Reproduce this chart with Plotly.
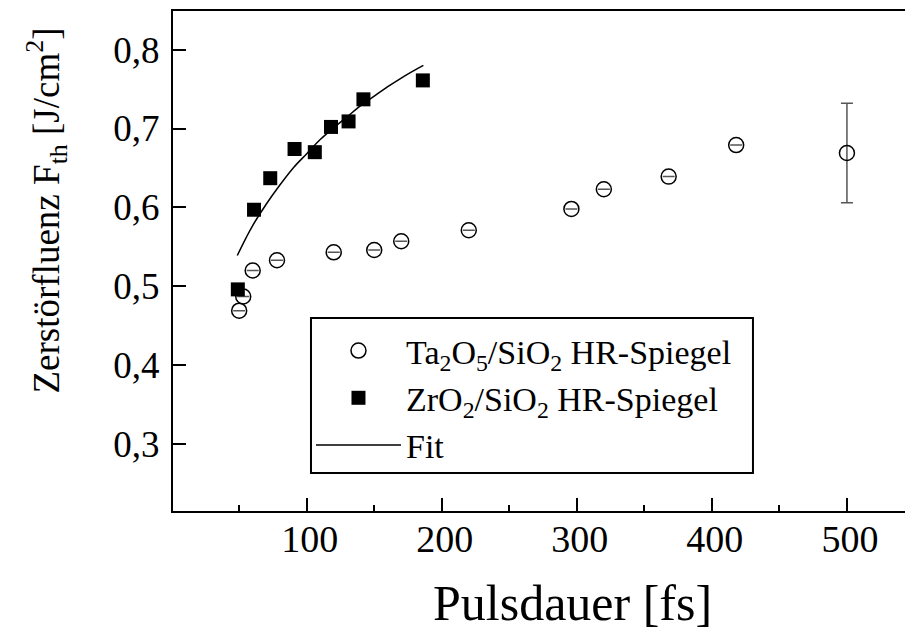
import plotly.graph_objects as go

# Ta2O5/SiO2 HR mirror (open circles)
ta_x = [50, 53, 60, 78, 120, 150, 170, 220, 296, 320, 368, 418, 500]
ta_y = [0.469, 0.487, 0.520, 0.533, 0.543, 0.546, 0.557, 0.571, 0.598, 0.623, 0.639, 0.679, 0.669]
ta_err = [None, None, None, None, None, None, None, None, None, None, None, None, 0.063]

# ZrO2/SiO2 HR mirror (filled squares)
zr_x = [49, 61, 73, 91, 106, 118, 131, 142, 186]
zr_y = [0.496, 0.597, 0.637, 0.674, 0.670, 0.702, 0.709, 0.737, 0.761]

# Fit curve
fit_x = [48.6, 55, 60, 70, 80, 90, 100, 110, 120, 130, 140, 150, 160, 170, 180, 186.4]
fit_y = [0.539, 0.561, 0.577, 0.604, 0.628, 0.650, 0.668, 0.686, 0.701, 0.715, 0.729, 0.741, 0.753, 0.764, 0.774, 0.780]

x_ticks = [100, 200, 300, 400, 500]
x_minor = [50, 150, 250, 350, 450]
y_ticks = [0.3, 0.4, 0.5, 0.6, 0.7, 0.8]
y_ticklabels = ["0,3", "0,4", "0,5", "0,6", "0,7", "0,8"]

FONT = "Liberation Serif, Times New Roman, serif"

fig = go.Figure()
fig.add_trace(go.Scatter(
    x=ta_x, y=ta_y, mode="markers",
    name="Ta<sub>2</sub>O<sub>5</sub>/SiO<sub>2</sub> HR-Spiegel",
    marker=dict(symbol="circle-open", size=15, color="black", line=dict(width=1.5, color="black")),
    error_y=dict(type="data", array=ta_err, color="#555555", thickness=1.5, width=6),
))
fig.add_trace(go.Scatter(
    x=zr_x, y=zr_y, mode="markers",
    name="ZrO<sub>2</sub>/SiO<sub>2</sub> HR-Spiegel",
    marker=dict(symbol="square", size=14, color="black"),
))
fig.add_trace(go.Scatter(
    x=fit_x, y=fit_y, mode="lines", name="Fit",
    line=dict(color="black", width=1.5, shape="spline"),
))

# legend frame
fig.add_shape(type="rect", xref="paper", yref="paper",
              x0=0.1885, x1=0.7923, y0=0.076, y1=0.386,
              line=dict(color="black", width=2), fillcolor="rgba(0,0,0,0)", layer="below")

# axis titles
fig.add_annotation(xref="paper", yref="paper", x=-0.1735, y=0.601,
                   text="Zerstörfluenz F<sub>th</sub> [J/cm<sup>2</sup>]",
                   textangle=-90, showarrow=False, xanchor="center", yanchor="middle",
                   font=dict(family=FONT, size=37, color="black"))
fig.add_annotation(xref="paper", yref="paper", x=0.5458, y=-0.244,
                   text="Pulsdauer [fs]", showarrow=False, xanchor="center", yanchor="bottom",
                   font=dict(family=FONT, size=50, color="black"))

fig.update_layout(
    width=905, height=633,
    margin=dict(l=173, r=0, t=11, b=122),
    paper_bgcolor="white", plot_bgcolor="white",
    font=dict(family=FONT, color="black"),
    showlegend=True,
    legend=dict(x=0.1885, y=0.378, xanchor="left", yanchor="top",
                bgcolor="rgba(0,0,0,0)", borderwidth=0,
                font=dict(family=FONT, size=34, color="black"),
                itemwidth=85, tracegroupgap=0),
    xaxis=dict(range=[1, 543], tickvals=x_ticks, ticks="inside", ticklen=13, tickwidth=2,
               tickcolor="black", showline=True, linewidth=2, linecolor="black", mirror=True,
               showgrid=False, zeroline=False, tickfont=dict(family=FONT, size=38, color="black"),
               minor=dict(tickvals=x_minor, ticks="inside", ticklen=6, tickwidth=2, tickcolor="black", showgrid=False),
               ticklabelshift=3, ticklabelstandoff=-7),
    yaxis=dict(range=[0.215, 0.849], tickvals=y_ticks, ticktext=y_ticklabels, ticks="inside",
               ticklen=13, tickwidth=2, tickcolor="black", showline=True, linewidth=2,
               linecolor="black", mirror=False, showgrid=False, zeroline=False,
               tickfont=dict(family=FONT, size=37, color="black"), ticklabelstandoff=4),
)

fig.write_html("out.html")
